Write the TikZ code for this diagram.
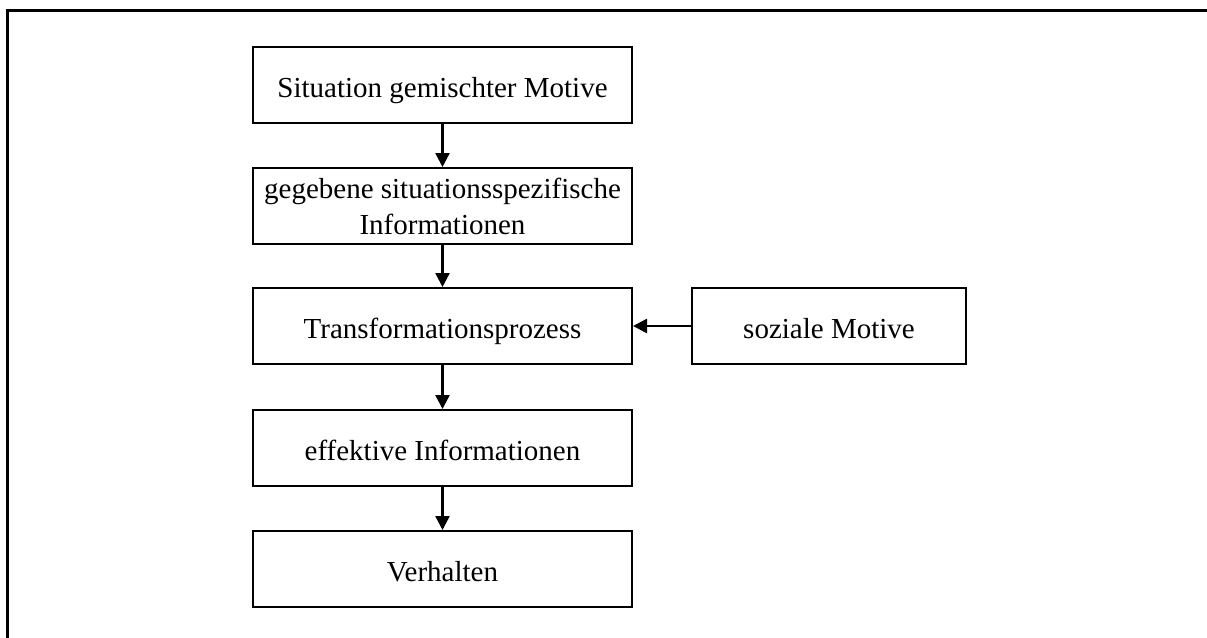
\documentclass[tikz,border=0pt]{standalone}
\usepackage{fontspec}
\setmainfont{Liberation Serif}
\usetikzlibrary{arrows.meta}
\tikzset{
  box/.style={draw, line width=2pt, rectangle, inner sep=0pt, minimum width=379pt, minimum height=76pt, align=center, font=\fontsize{29}{36}\selectfont},
  oneline/.style={text height=25pt, text depth=0pt},
  conn/.style={line width=2.5pt, -{Triangle[length=14pt,width=14pt]}},
  frameline/.style={line width=3pt}
}
\begin{document}
\begin{tikzpicture}[x=1pt,y=-1pt]
\useasboundingbox (0,0) rectangle (1207,637);
\coordinate (fa) at (1207,10);
\coordinate (fb) at (7,10);
\coordinate (fc) at (7,640);
\draw[frameline] (fa) -- (fb) -- (fc);
\node[box, oneline] (b1) at (442.5,85) {Situation gemischter Motive};
\node[box] (b2) at (442.5,206) {gegebene situationsspezifische\\Informationen};
\node[box, oneline] (b3) at (442.5,326) {Transformationsprozess};
\node[box, oneline] (b4) at (442.5,448) {effektive Informationen};
\node[box, oneline] (b5) at (442.5,569) {Verhalten};
\node[box, oneline, minimum width=274pt] (sm) at (829,326) {soziale Motive};
\draw[conn] (b1) -- (b2);
\draw[conn] (b2) -- (b3);
\draw[conn] (b3) -- (b4);
\draw[conn] (b4) -- (b5);
\draw[conn] (sm) -- (b3);
\end{tikzpicture}
\end{document}
